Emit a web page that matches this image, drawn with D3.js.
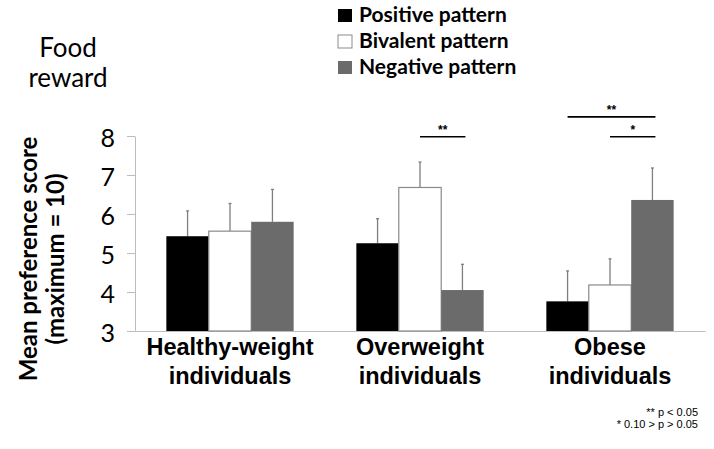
<!DOCTYPE html>
<html>
<head>
<meta charset="utf-8">
<script src="https://cdn.jsdelivr.net/npm/d3@7"></script>
<style>
  body { margin: 0; background: #fff; }
  svg { display: block; }
</style>
</head>
<body>
<div id="chart"></div>
<script>
// data
const groups = ['Healthy-weight individuals', 'Overweight individuals', 'Obese individuals'];
const groupLines = [['Healthy-weight', 'individuals'], ['Overweight', 'individuals'], ['Obese', 'individuals']];
const series = ['Positive pattern', 'Bivalent pattern', 'Negative pattern'];
const means = [
    [5.43, 5.56, 5.80],
    [5.25, 6.68, 4.05],
    [3.76, 4.18, 6.36]
];
const errors = [
    [0.65, 0.71, 0.83],
    [0.63, 0.65, 0.66],
    [0.78, 0.67, 0.82]
];
const yTicks = [3, 4, 5, 6, 7, 8];
// significance brackets: group index, from series, to series, label, level
const sigs = [
    { g: 1, a: 1, b: 2, label: '**', y: 7.98 },
    { g: 2, a: 0, b: 2, label: '**', y: 8.49 },
    { g: 2, a: 1, b: 2, label: '*', y: 7.98 }
];
const footnotes = ['** p < 0.05', '* 0.10 > p > 0.05'];

const width = 714, height = 449;
const colors = ['#000000', '#ffffff', '#6b6b6b'];
const sans = 'Lato, "Open Sans", sans-serif';
const arial = '"Liberation Sans", Arial, sans-serif';

const svg = d3.select('#chart').append('svg')
    .attr('width', width)
    .attr('height', height);

const x0 = d3.scaleBand().domain(groups).range([135, 705])
    .paddingInner(0.33)
    .paddingOuter(0.165);
const x1 = d3.scaleBand().domain(series).range([0, x0.bandwidth()]);
const y = d3.scaleLinear().domain([3, 8]).range([331, 136]);
const color = d3.scaleOrdinal().domain(series).range(colors);

// y axis
const yAxis = d3.axisLeft(y)
    .tickValues(yTicks)
    .tickSize(8)
    .tickSizeOuter(0)
    .tickPadding(12)
    .tickFormat(d3.format('d'));

const yg = svg.append('g')
    .attr('transform', 'translate(135,0)')
    .call(yAxis);
yg.select('.domain').attr('stroke', '#bdbdbd');
yg.selectAll('.tick line').attr('stroke', '#bdbdbd');
yg.selectAll('.tick text')
    .attr('font-family', sans)
    .attr('font-size', 25)
    .attr('dy', '0.42em')
    .attr('fill', '#000');

// x axis line + two-line category labels
const xAxis = d3.axisBottom(x0).tickSize(0).tickSizeOuter(0).tickFormat('');
const xg = svg.append('g')
    .attr('transform', 'translate(0,331)')
    .call(xAxis);
xg.select('.domain').attr('stroke', '#bdbdbd');

const labels = svg.append('g').selectAll('text')
    .data(groups)
    .enter().append('text')
    .attr('text-anchor', 'middle')
    .attr('font-family', arial)
    .attr('font-weight', 'bold')
    .attr('font-size', 23.5)
    .attr('fill', '#000');
labels.each(function(d, i) {
    const t = d3.select(this);
    groupLines[i].forEach(function(line, j) {
        t.append('tspan')
            .attr('x', x0(d) + x0.bandwidth() / 2)
            .attr('y', 355 + j * 28.5)
            .text(line);
    });
});

// bars
const gGroups = svg.append('g').selectAll('g')
    .data(groups)
    .enter().append('g')
    .attr('transform', function(d) { return 'translate(' + x0(d) + ',0)'; });

// error bars (upper only)
gGroups.each(function(g, gi) {
    const grp = d3.select(this);
    series.forEach(function(s, si) {
        const cx = x1(s) + x1.bandwidth() / 2;
        const top = y(means[gi][si] + errors[gi][si]);
        grp.append('line')
            .attr('x1', cx).attr('x2', cx)
            .attr('y1', y(means[gi][si])).attr('y2', top)
            .attr('stroke', '#7f7f7f')
            .attr('stroke-width', 1.3);
        grp.append('line')
            .attr('x1', cx - 1.5).attr('x2', cx + 1.5)
            .attr('y1', top).attr('y2', top)
            .attr('stroke', '#7f7f7f')
            .attr('stroke-width', 1.3);
    });
});

gGroups.each(function(g, gi) {
    d3.select(this).selectAll('rect')
        .data(series)
        .enter().append('rect')
        .attr('x', function(s) { return x1(s); })
        .attr('width', x1.bandwidth())
        .attr('y', function(s, si) { return y(means[gi][si]); })
        .attr('height', function(s, si) { return y(3) - y(means[gi][si]); })
        .attr('fill', function(s) { return color(s); })
        .attr('stroke', function(s, si) { return si === 1 ? '#8a8a8a' : 'none'; })
        .attr('stroke-width', 1.2);
});

// significance lines
const sigG = svg.append('g');
sigs.forEach(function(s) {
    const gx = x0(groups[s.g]);
    const xa = gx + x1(series[s.a]) + x1.bandwidth() / 2;
    const xb = gx + x1(series[s.b]) + x1.bandwidth() / 2 + 3;
    sigG.append('line')
        .attr('x1', xa).attr('x2', xb)
        .attr('y1', y(s.y)).attr('y2', y(s.y))
        .attr('stroke', '#000')
        .attr('stroke-width', 1.6);
    sigG.append('text')
        .attr('x', (xa + xb) / 2)
        .attr('y', y(s.y) - 3)
        .attr('text-anchor', 'middle')
        .attr('font-family', arial)
        .attr('font-size', 12)
        .attr('font-weight', 'bold')
        .text(s.label);
});

// legend
const legend = svg.append('g').attr('transform', 'translate(338,0)');
series.forEach(function(s, i) {
    legend.append('rect')
        .attr('x', 0)
        .attr('y', 9 + i * 26)
        .attr('width', 14)
        .attr('height', 13)
        .attr('fill', color(s))
        .attr('stroke', i === 1 ? '#8a8a8a' : 'none');
    legend.append('text')
        .attr('x', 21)
        .attr('y', 22 + i * 26)
        .attr('font-family', sans)
        .attr('font-weight', 'bold')
        .attr('font-size', 21)
        .text(s);
});

// panel title
const title = svg.append('text')
    .attr('text-anchor', 'middle')
    .attr('font-family', sans)
    .attr('font-size', 26)
    .attr('fill', '#000');
['Food', 'reward'].forEach(function(t, i) {
    title.append('tspan').attr('x', 68).attr('y', 57 + i * 30).text(t);
});

// y axis title
const yTitle = svg.append('text')
    .attr('transform', 'translate(0,259) rotate(-90)')
    .attr('text-anchor', 'middle')
    .attr('font-family', sans)
    .attr('font-weight', 'bold')
    .attr('font-size', 24);
['Mean preference score', '(maximum = 10)'].forEach(function(t, i) {
    yTitle.append('tspan').attr('x', 0).attr('y', 37 + i * 27).text(t);
});

// footnotes
footnotes.forEach(function(f, i) {
    svg.append('text')
        .attr('x', 698)
        .attr('y', 416 + i * 12)
        .attr('text-anchor', 'end')
        .attr('font-family', arial)
        .attr('font-size', 11)
        .text(f);
});
</script>
</body>
</html>
